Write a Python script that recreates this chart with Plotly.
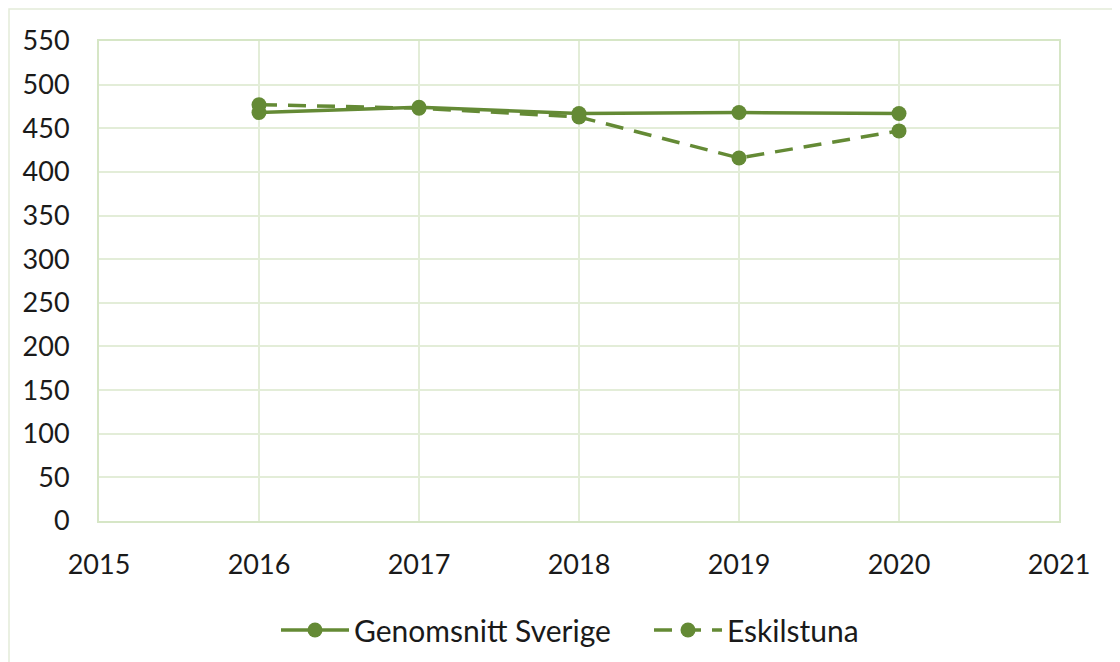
import plotly.graph_objects as go

years = [2016, 2017, 2018, 2019, 2020]
genomsnitt_sverige = [468, 474, 467, 468, 467]
eskilstuna = [477, 473, 463, 416, 447]

GREEN = "#648a35"
GRID = "#e3edd8"
AXIS = "#d6e6c6"
FONT = "Lato"

fig = go.Figure()
fig.add_trace(go.Scatter(
    x=years, y=genomsnitt_sverige, name="Genomsnitt Sverige",
    mode="lines+markers",
    line=dict(color=GREEN, width=3.5),
    marker=dict(color=GREEN, size=15),
))
fig.add_trace(go.Scatter(
    x=years, y=eskilstuna, name="Eskilstuna",
    mode="lines+markers",
    line=dict(color=GREEN, width=3.5, dash="18px,11px"),
    marker=dict(color=GREEN, size=15),
))

OFF = 8  # page body margin
W, H = 1120, 662
L, T = 99 - OFF, 41 - OFF
pw, ph = 960, 480
R = W - L - pw
B = H - T - ph

def px_x(x):
    return (x - OFF - L) / pw

def px_y(y):
    return (H - (y - OFF) - B) / ph

fig.update_layout(
    width=W, height=H,
    margin=dict(l=L, r=R, t=T, b=B, autoexpand=False),
    paper_bgcolor="white", plot_bgcolor="white",
    font=dict(family=FONT, size=27, color="#1a1a1a"),
    showlegend=True,
    legend=dict(
        orientation="h", x=px_x(276), xanchor="left",
        y=px_y(630), yanchor="middle",
        font=dict(size=30), itemwidth=68, entrywidth=290,
    ),
    xaxis=dict(
        range=[2015, 2021], dtick=1, tick0=2015,
        showgrid=True, gridcolor=GRID, gridwidth=2,
        showline=True, linecolor=AXIS, linewidth=2, mirror=True,
        zeroline=False, ticks="", ticklabelstandoff=19,
    ),
    yaxis=dict(
        range=[0, 550], dtick=50,
        showgrid=True, gridcolor=GRID, gridwidth=2,
        showline=True, linecolor=AXIS, linewidth=2, mirror=True,
        zeroline=False, ticks="", ticklabelstandoff=22,
    ),
    shapes=[dict(
        type="rect", xref="paper", yref="paper",
        x0=px_x(9), x1=px_x(W + 30),
        y0=px_y(H + 30), y1=px_y(9),
        line=dict(color="#e3ecd9", width=1.5), layer="below",
    )],
)

fig.write_html("out.html")
